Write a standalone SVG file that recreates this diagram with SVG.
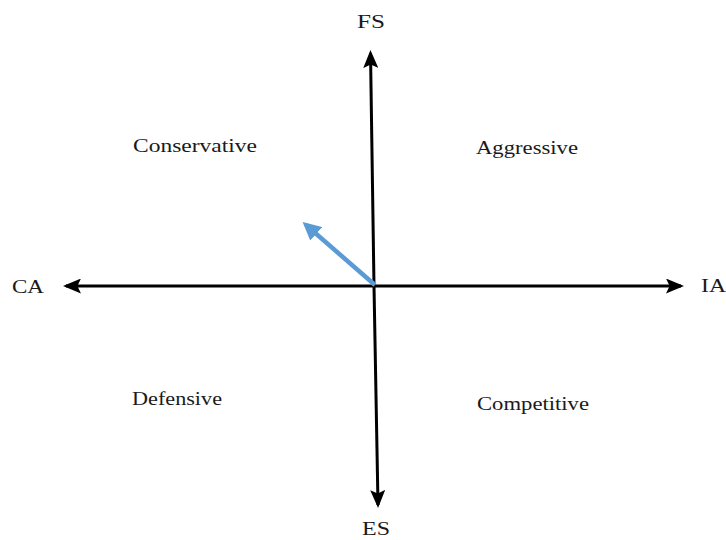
<svg xmlns="http://www.w3.org/2000/svg" width="726" height="540" viewBox="0 0 726 540">
  <defs>
    <marker id="ah" markerWidth="6" markerHeight="5" refX="5" refY="2.5" orient="auto" markerUnits="strokeWidth">
      <path d="M0,0 L6,2.5 L0,5 L1.2,2.5 Z" fill="#000"/>
    </marker>
    <marker id="bh" markerWidth="4" markerHeight="4" refX="3" refY="2" orient="auto" markerUnits="strokeWidth">
      <path d="M0,0 L4,2 L0,4 Z" fill="#5B9BD5"/>
    </marker>
  </defs>
  <style>
    text { font-family: "Liberation Serif", "Times New Roman", serif; font-size: 19px; fill: #1a1a1a; }
    .axis { stroke: #000; stroke-width: 3; fill: none; }
  </style>
  <rect width="726" height="540" fill="#fff"/>
  <g id="connectors">
    <line class="axis" x1="374" y1="286" x2="66" y2="286" marker-end="url(#ah)"/>
    <line class="axis" x1="374" y1="286" x2="681" y2="286" marker-end="url(#ah)"/>
    <line class="axis" x1="374" y1="286" x2="370.5" y2="53" marker-end="url(#ah)"/>
    <line class="axis" x1="374" y1="286" x2="378" y2="505" marker-end="url(#ah)"/>
    <line x1="375" y1="285" x2="306" y2="225" stroke="#5B9BD5" stroke-width="4.5" marker-end="url(#bh)"/>
  </g>
  <g id="FS"><text x="357" y="28" textLength="28" lengthAdjust="spacingAndGlyphs">FS</text></g>
  <g id="ES"><text x="362" y="535" textLength="28" lengthAdjust="spacingAndGlyphs">ES</text></g>
  <g id="CA"><text x="12" y="293" textLength="32" lengthAdjust="spacingAndGlyphs">CA</text></g>
  <g id="IA"><text x="701" y="292" textLength="25" lengthAdjust="spacingAndGlyphs">IA</text></g>
  <g id="Conservative"><text x="133" y="152" textLength="124" lengthAdjust="spacingAndGlyphs">Conservative</text></g>
  <g id="Aggressive"><text x="476" y="154" textLength="102" lengthAdjust="spacingAndGlyphs">Aggressive</text></g>
  <g id="Defensive"><text x="132" y="405" textLength="90" lengthAdjust="spacingAndGlyphs">Defensive</text></g>
  <g id="Competitive"><text x="477" y="410" textLength="112" lengthAdjust="spacingAndGlyphs">Competitive</text></g>
</svg>
